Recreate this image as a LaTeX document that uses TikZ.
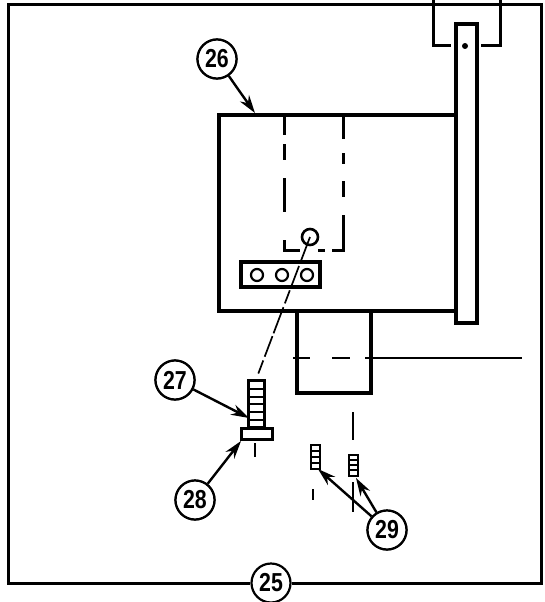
\documentclass[tikz,border=0pt]{standalone}
\usepackage{fontspec}
\setmainfont[FakeStretch=0.82]{Liberation Sans}
\usetikzlibrary{arrows.meta}
\tikzset{
	partlabel/.style={circle, draw, line width=2.2pt, fill=white, inner sep=0pt, minimum size=39pt, font=\fontsize{26}{26}\selectfont\bfseries},
	heavy/.style={line width=4pt, line join=miter},
	medium/.style={line width=3pt},
	centerline/.style={line width=1.7pt},
	leader/.style={line width=2.4pt, -{Stealth[length=18pt,width=11pt]}}
}

\begin{document}
\begin{tikzpicture}[x=1pt, y=-1pt]
		\useasboundingbox (0, 0) rectangle (545, 602);
		\node[partlabel] (lab25) at (271, 583) {25};
		\node[partlabel] (lab26) at (217, 59) {26};
		\node[partlabel] (lab27) at (175, 380) {27};
		\node[partlabel] (lab28) at (195, 500) {28};
		\node[partlabel] (lab29) at (387, 530) {29};
		\coordinate (tip26) at (255, 113);
		\coordinate (tip27) at (249, 418);
		\coordinate (tip28) at (241, 441);
		\coordinate (tip29a) at (318, 469);
		\coordinate (tip29b) at (356, 478);
		\coordinate (hole) at (310, 237);
		\coordinate (bolttop) at (257, 377);

		\draw[medium] (lab25.west) -- (8, 583) -- (8, 5) -- (541, 5) -- (541, 583) -- (lab25.east);
		\draw[medium] (433, 0) -- (433, 46) -- (451, 46);
		\draw[medium] (500, 0) -- (500, 46) -- (481, 46);

		\draw[heavy] (219, 115) rectangle (456, 311);
		\draw[heavy, fill=white] (456, 24) rectangle (477, 323);
		\fill (465, 46) circle (3pt);

		\draw[medium] (284, 117) -- (284, 135);
		\draw[medium] (284, 144) -- (284, 160);
		\draw[medium] (284, 178) -- (284, 212);
		\draw[medium] (284, 240) -- (284, 250) -- (300, 250);
		\draw[medium] (318, 250) -- (325, 250);
		\draw[medium] (332, 250) -- (343, 250) -- (343, 215);
		\draw[medium] (343, 117) -- (343, 139);
		\draw[medium] (343, 153) -- (343, 164);
		\draw[medium] (343, 181) -- (343, 197);

		\draw[line width=2.6pt] (hole) circle (8pt);
		\draw[heavy] (241, 262) rectangle (320, 287);
		\foreach \x in {257, 282, 307} \draw[line width=2.2pt, fill=white] (\x, 275) circle (6pt);

		\draw[centerline, dash pattern=on 28pt off 3pt on 22pt off 4pt on 14pt off 4pt] (hole) -- (bolttop);

		\draw[heavy] (297, 313) -- (297, 393) -- (371, 393) -- (371, 313);
		\draw[centerline] (293, 358) -- (310, 358);
		\draw[centerline] (332, 358) -- (350, 358);
		\draw[centerline] (365, 358) -- (522, 358);

		\draw[medium] (248, 380) rectangle (264, 427);
		\foreach \y in {389, 397, 404, 412, 420} \draw[line width=1.4pt] (248, \y) -- (264, \y);
		\draw[medium] (241, 428) rectangle (272, 439);
		\draw[centerline] (255, 443) -- (255, 457);

		\draw[line width=2.2pt] (311, 445) rectangle (320, 469);
		\foreach \y in {451, 457, 463} \draw[line width=1.5pt] (311, \y) -- (320, \y);
		\draw[line width=2.2pt] (349, 455) rectangle (358, 476);
		\foreach \y in {460, 465, 470} \draw[line width=1.5pt] (349, \y) -- (358, \y);
		\draw[centerline] (353, 412) -- (353, 440);
		\draw[centerline] (353, 482) -- (353, 512);
		\draw[centerline] (313, 489) -- (313, 500);

		\draw[leader] (lab26) .. controls (240, 92) .. (tip26);
		\draw[leader] (lab27) -- (tip27);
		\draw[leader] (lab28) -- (tip28);
		\draw[leader] (lab29) -- (tip29a);
		\draw[leader] (lab29) -- (tip29b);
		\node[partlabel] at (lab26) {26};
		\node[partlabel] at (lab27) {27};
		\node[partlabel] at (lab28) {28};
		\node[partlabel] at (lab29) {29};
	\end{tikzpicture}
\end{document}
